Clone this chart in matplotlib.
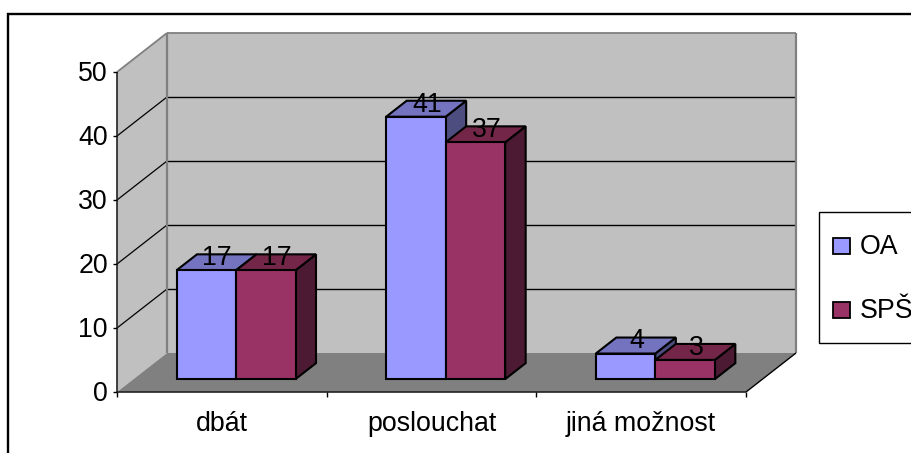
import matplotlib
matplotlib.use("Agg")
import matplotlib.pyplot as plt
from matplotlib.patches import Polygon, Rectangle

plt.rcParams['font.family'] = ['Liberation Sans', 'DejaVu Sans']

categories = ['dbát', 'poslouchat', 'jiná možnost']
series_names = ['OA', 'SPŠ']
oa_values = [17, 41, 4]
sps_values = [17, 37, 3]
y_ticks = [0, 10, 20, 30, 40, 50]

W, H = 912, 453
FS = 19.3
fig = plt.figure(figsize=(W / 100, H / 100), dpi=100, facecolor='white')

# axis frame in pixels of the front plane
L, R, T, B = 117, 746, 72, 392
ax = fig.add_axes([L / W, 1 - B / H, (R - L) / W, (B - T) / H])
ax.set_xlim(0, 3)
ax.set_ylim(0, 50)
ax.axis('off')

UX = (R - L) / 3       # pixels per category
UY = (B - T) / 50      # pixels per value unit
DX = 50 / UX           # depth shift, x units
DY = 39 / UY           # depth shift, y units


def P(x, y, z):
    return (x + z * DX, y + z * DY)


def poly(pts, fc, ec='none', lw=0, z=1):
    ax.add_patch(Polygon(pts, closed=True, fc=fc, ec=ec, lw=lw, zorder=z,
                         clip_on=False, joinstyle='miter'))


def line(a, b, c='black', lw=1, z=2):
    ax.plot([a[0], b[0]], [a[1], b[1]], color=c, lw=lw, zorder=z,
            clip_on=False, solid_capstyle='butt')


# outer chart border (runs off the picture right and bottom)
fig.add_artist(Rectangle((8 / W, -0.02), 1.0, 1 - 14 / H + 0.02, transform=fig.transFigure,
                         fc='none', ec='black', lw=1.7, zorder=0))

# walls and floor
WALL = '#c0c0c0'
poly([P(0, 0, 0), P(0, 50, 0), P(0, 50, 1), P(0, 0, 1)], WALL)
poly([P(0, 0, 1), P(0, 50, 1), P(3, 50, 1), P(3, 0, 1)], WALL)
poly([P(0, 0, 0), P(3, 0, 0), P(3, 0, 1), P(0, 0, 1)], '#808080')

for t in y_ticks[1:-1]:
    line(P(0, t, 0), P(0, t, 1), lw=0.9)
    line(P(0, t, 1), P(3, t, 1), lw=1.0)
GREY = '#808080'
line(P(0, 50, 0), P(0, 50, 1), GREY, 1.3)
line(P(0, 50, 1), P(3, 50, 1), GREY, 1.3)
line(P(0, 0, 1), P(0, 50, 1), GREY, 1.6)
line(P(3, 0, 1), P(3, 50, 1), GREY, 1.6)
line(P(3, 0, 0), P(3, 0, 1), 'black', 1.0)

# axes
line((0, 0), (0, 50), '#222222', 1.2, 3)
line((0, 0), (3, 0), '#222222', 1.2, 3)
for t in y_ticks:
    line((-4.5 / UX, t), (0, t), 'black', 1, 3)
    ax.annotate(str(t), (0, t), xytext=(-6.5, -1.5), textcoords='offset points', ha='right', va='center',
                fontsize=FS, color='black', annotation_clip=False)
for i in range(4):
    line((i, 0), (i, -5 / UY), 'black', 1, 3)
for i, c in enumerate(categories):
    ax.annotate(c, (i + 0.5, 0), xytext=(0, -28), textcoords='offset points', ha='center', va='baseline',
                fontsize=FS, color='black', annotation_clip=False)

# bars
Z0, Z1 = 0.33, 0.74
BW = 59.5 / UX
X0 = 43 / UX
OA = ('#9999ff', '#7373bf', '#4d4d80')
SPS = ('#993366', '#732648', '#4d1a33')


def bar(x, h, cols, order):
    x1 = x + BW
    front = [P(x, 0, Z0), P(x1, 0, Z0), P(x1, h, Z0), P(x, h, Z0)]
    top = [P(x, h, Z0), P(x1, h, Z0), P(x1, h, Z1), P(x, h, Z1)]
    side = [P(x1, 0, Z0), P(x1, 0, Z1), P(x1, h, Z1), P(x1, h, Z0)]
    poly(side, cols[2], 'black', 1.5, order)
    poly(top, cols[1], 'black', 1.5, order)
    poly(front, cols[0], 'black', 1.5, order)


for i, (a, b) in enumerate(zip(oa_values, sps_values)):
    x = i + X0
    bar(x, a, OA, 5)
    bar(x + BW, b, SPS, 6)
    for xx, v in ((x, a), (x + BW, b)):
        px, py = P(xx + BW / 2, v, (Z0 + Z1) / 2)
        ax.annotate(str(v), (px, py), xytext=(0.5, 3), textcoords='offset points', ha='center', va='center',
                    fontsize=FS, color='black', zorder=10, annotation_clip=False)

# legend
fig.add_artist(Rectangle((819.5 / W, 1 - 343 / H), 120 / W, 131 / H, transform=fig.transFigure,
                         fc='white', ec='black', lw=1, zorder=4))
for name, col, yc in zip(series_names, (OA[0], SPS[0]), (246, 310)):
    fig.add_artist(Rectangle((833.5 / W, 1 - (yc + 8) / H), 17 / W, 16 / H, transform=fig.transFigure,
                             fc=col, ec='black', lw=1.3, zorder=5))
    fig.text(859.5 / W, 1 - (yc + 1) / H, name, fontsize=FS, va='center', ha='left', color='black', zorder=5)

fig.savefig('out.png', dpi=100, facecolor='white')
